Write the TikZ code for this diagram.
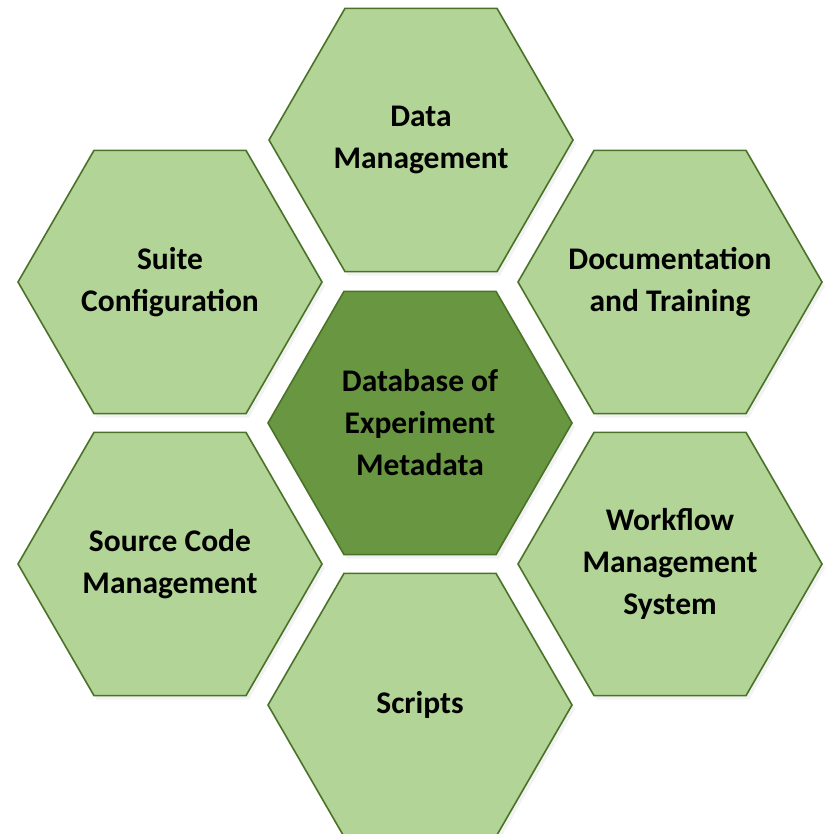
\documentclass[tikz,border=0pt]{standalone}
\usepackage{fontspec}
\setmainfont{Carlito}
\usetikzlibrary{shapes.geometric,shadows}

\definecolor{hexlight}{HTML}{B2D496}
\definecolor{hexdark}{HTML}{689641}
\definecolor{hexline}{HTML}{4A7329}

\tikzset{
  hexcell/.style={regular polygon, regular polygon sides=6,
    minimum size=304pt, inner sep=0pt, draw=hexline, line width=1.6pt, fill=hexlight,
    drop shadow={opacity=0.1, shadow xshift=3pt, shadow yshift=-4pt}},
  hexcore/.style={hexcell, fill=hexdark},
  hextext/.style={align=center, inner sep=0pt, font=\fontsize{31.5}{42}\selectfont\bfseries}
}

\begin{document}
\begin{tikzpicture}[x=1pt,y=-1pt]
  \useasboundingbox (0,0) rectangle (825,834);
  \draw
    (420,423) node[hexcore, label={[hextext]center:Database of\\Experiment\\Metadata}] (core){}
    (421,140) node[hexcell, label={[hextext]center:Data\\Management}] (data){}
    (670,282) node[hexcell, label={[hextext]center:Documentation\\and Training}] (docs){}
    (670,564) node[hexcell, label={[hextext]center:Workflow\\Management\\System}] (flow){}
    (420,705) node[hexcell, label={[hextext]center:Scripts}] (scripts){}
    (170,564) node[hexcell, label={[hextext]center:Source Code\\Management}] (source){}
    (170,282) node[hexcell, label={[hextext]center:Suite\\Configuration}] (suite){};
\end{tikzpicture}
\end{document}
